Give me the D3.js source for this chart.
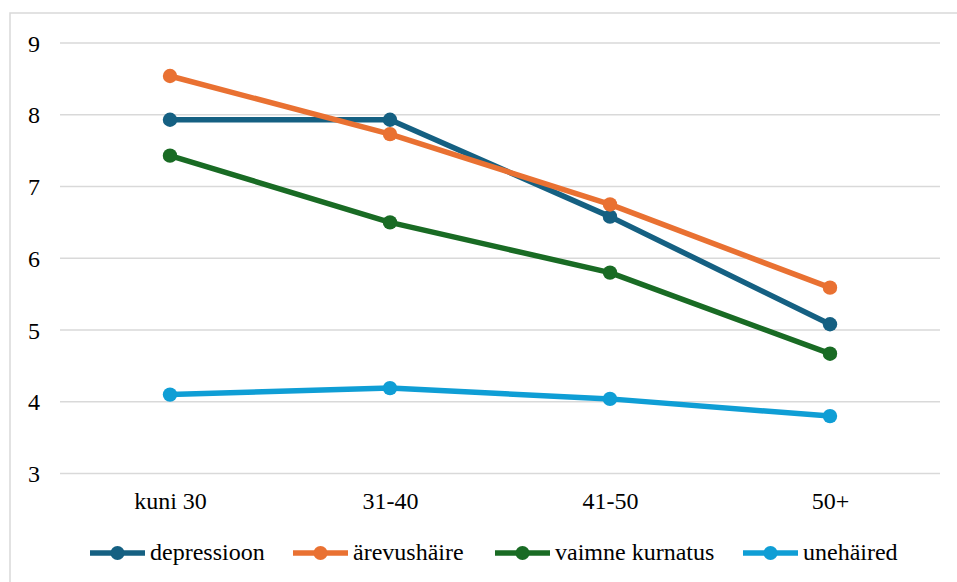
<!DOCTYPE html>
<html>
<head>
<meta charset="utf-8">
<script src="https://cdn.jsdelivr.net/npm/d3@7"></script>
<style>
  html, body { margin: 0; padding: 0; background: #ffffff; }
  svg { display: block; }
  svg text { font-family: "Times New Roman", Tinos, "Liberation Serif", serif !important; }
</style>
</head>
<body>
<svg id="chart" width="957" height="582" font-family="Times New Roman, Tinos, Liberation Serif, serif"></svg>
<script>
// Age groups on the x axis
const categories = ["kuni 30", "31-40", "41-50", "50+"];

// Average scores per age group
const depressioon     = [7.93, 7.93, 6.58, 5.08];
const arevushaire     = [8.54, 7.73, 6.75, 5.59];
const vaimneKurnatus  = [7.43, 6.50, 5.80, 4.67];
const unehaired       = [4.10, 4.19, 4.04, 3.80];

const seriesNames  = ["depressioon", "ärevushäire", "vaimne kurnatus", "unehäired"];
const seriesValues = [depressioon, arevushaire, vaimneKurnatus, unehaired];
const seriesColors = ["#156082", "#E97132", "#196B24", "#0F9ED5"];

const yTicks = [3, 4, 5, 6, 7, 8, 9];

const W = 957, H = 582;
const plot = { left: 60, right: 940, top: 43, bottom: 473.5 };
const fontFamily = '"Times New Roman", Tinos, "Liberation Serif", serif';
const fontSize = "24px";

const svg = d3.select("#chart");

// Outer chart frame (light gray)
svg.append("rect")
  .attr("x", 10).attr("y", 13)
  .attr("width", W + 20).attr("height", H + 20)
  .attr("fill", "none")
  .attr("stroke", "#d9d9d9")
  .attr("stroke-width", 1.5);

const x = d3.scalePoint().domain(categories).range([plot.left, plot.right]).padding(0.5);
const y = d3.scaleLinear().domain([3, 9]).range([plot.bottom, plot.top]);

// Horizontal gridlines
svg.append("g")
  .selectAll("line")
  .data(yTicks)
  .join("line")
  .attr("x1", plot.left).attr("x2", plot.right)
  .attr("y1", d => y(d)).attr("y2", d => y(d))
  .attr("stroke", "#d9d9d9")
  .attr("stroke-width", 1.5);

function styleText(sel) {
  sel.attr("font-family", "Times New Roman, Tinos, Liberation Serif, serif")
     .attr("font-size", 24)
     .style("font-family", fontFamily, "important")
     .style("font-size", fontSize)
     .style("fill", "#000");
}

// Y axis labels
const yAxis = d3.axisLeft(y).tickValues(yTicks).tickSize(0).tickPadding(0).tickFormat(d3.format("d"));
const gy = svg.append("g").attr("transform", "translate(40,0)").call(yAxis);
gy.attr("font-family", null).attr("font-size", null);
gy.select(".domain").remove();
gy.selectAll("text").call(styleText).attr("dy", "0.34em");

// X axis labels
const xAxis = d3.axisBottom(x).tickSize(0).tickPadding(0);
const gx = svg.append("g").attr("transform", `translate(0,${plot.bottom})`).call(xAxis);
gx.attr("font-family", null).attr("font-size", null);
gx.select(".domain").remove();
gx.selectAll("text").call(styleText).attr("dy", null).attr("y", 35.5);

// Lines
const line = d3.line().x((d, i) => x(categories[i])).y(d => y(d));
svg.append("g")
  .selectAll("path")
  .data(seriesValues)
  .join("path")
  .attr("d", d => line(d))
  .attr("fill", "none")
  .attr("stroke", (d, i) => seriesColors[i])
  .attr("stroke-width", 5.5)
  .attr("stroke-linejoin", "round");

// Markers
seriesValues.forEach((vals, s) => {
  svg.append("g")
    .selectAll("circle")
    .data(vals)
    .join("circle")
    .attr("cx", (d, i) => x(categories[i]))
    .attr("cy", d => y(d))
    .attr("r", 7.2)
    .attr("fill", seriesColors[s]);
});

// Legend: fixed slots along the bottom, one per series
const legendSlots = [90, 293, 495, 743];
const symW = 55, textGap = 5, legendY = 553;
const legend = svg.append("g");
seriesNames.forEach((name, i) => {
  const g = legend.append("g").attr("transform", `translate(${legendSlots[i]},${legendY})`);
  g.append("line")
    .attr("x1", 0).attr("x2", symW)
    .attr("y1", 0).attr("y2", 0)
    .attr("stroke", seriesColors[i])
    .attr("stroke-width", 5.5);
  g.append("circle")
    .attr("cx", symW / 2).attr("cy", 0).attr("r", 7)
    .attr("fill", seriesColors[i]);
  g.append("text")
    .attr("x", symW + textGap).attr("y", 7)
    .call(styleText)
    .text(name);
});
</script>
</body>
</html>
